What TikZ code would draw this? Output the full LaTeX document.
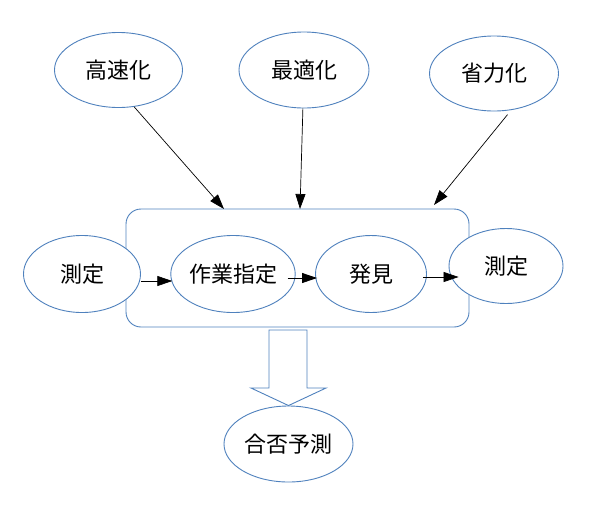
\documentclass[tikz,border=0pt]{standalone}
\usepackage{fontspec}
\newfontfamily\cjk{Noto Sans CJK JP}
\usetikzlibrary{arrows.meta,shapes.geometric}
\definecolor{eblue}{RGB}{79,129,189}
\begin{document}
\begin{tikzpicture}[x=1pt,y=-1pt,
  oval/.style={ellipse,draw=eblue,line width=0.9pt,fill=white,inner sep=0pt,
    font=\cjk\fontsize{22}{26}\selectfont},
  conn/.style={-{Triangle[length=15pt,width=10pt]},line width=0.7pt,black}]
\useasboundingbox (0,0) rectangle (591,512);
\node[draw=eblue,line width=0.9pt,rounded corners=15pt,minimum width=343pt,minimum height=118pt] (box) at (297.5,268) {};
\node[oval,minimum width=128pt,minimum height=75pt] (k) at (118.5,70) {高速化};
\node[oval,minimum width=130pt,minimum height=76pt] (s) at (304,70) {最適化};
\node[oval,minimum width=129pt,minimum height=75pt] (r) at (494,73.5) {省力化};
\node[oval,minimum width=117pt,minimum height=77pt] (m1) at (82,274) {測定};
\node[oval,minimum width=115pt,minimum height=77pt] (w) at (233,274) {作業指定};
\node[oval,minimum width=111pt,minimum height=77pt] (h) at (371,274) {発見};
\node[oval,minimum width=114pt,minimum height=75pt] (m2) at (506,266) {測定};
\node[oval,minimum width=129pt,minimum height=76pt] (g) at (288.5,444) {合否予測};
\coordinate (t1) at (224,209);
\coordinate (t2) at (300,209);
\coordinate (t3) at (434,205);
\draw[conn] (k.-67) -- (t1);
\draw[conn] (s) -- (t2);
\draw[conn] ([yshift=-4pt]r.-70) -- (t3);
\draw[conn] ([yshift=-7pt]m1.east) -- ([yshift=-7pt,xshift=2pt]w.west);
\draw[conn] ([xshift=-8pt,yshift=-4pt]w.east) -- ([xshift=2pt,yshift=-4pt]h.west);
\draw[conn] ([xshift=-4pt,yshift=-3pt]h.east) -- ([xshift=10pt,yshift=-11pt]m2.west);
\draw[draw=eblue,line width=0.9pt,fill=white]
  (269,330) -- (307,330) -- (307,388) -- (326,388) -- (g.north) -- (251,388) -- (269,388) -- cycle;
\end{tikzpicture}
\end{document}
